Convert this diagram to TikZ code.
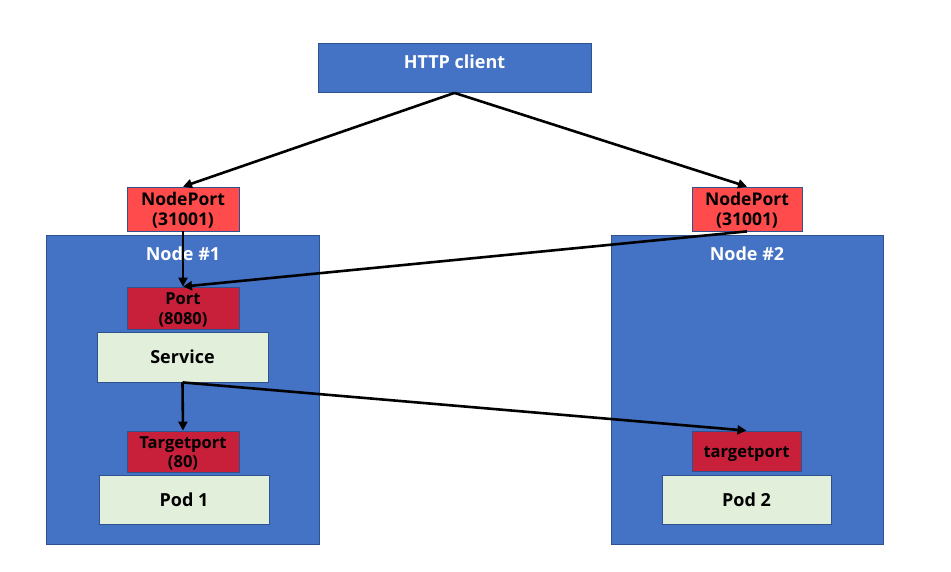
\documentclass[tikz,border=0pt]{standalone}
\usepackage{fontspec}
\setmainfont{Open Sans}
\usetikzlibrary{arrows.meta}
\definecolor{boxblue}{HTML}{4472C4}
\definecolor{edgeblue}{HTML}{2F528F}
\definecolor{npred}{HTML}{FF4B4B}
\definecolor{portred}{HTML}{C8203A}
\definecolor{lightgreen}{HTML}{E2EFDA}
\newcommand{\lowtext}[1]{\raisebox{-2.5pt}[\height][\depth]{\begin{tabular}{@{}c@{}}#1\end{tabular}}}
\tikzset{
  box/.style={draw=edgeblue, line width=0.8pt, rectangle, inner sep=0pt, align=center, font=\bfseries\fontsize{16.5}{19.5}\selectfont, text=black},
  hostbox/.style={box, fill=boxblue},
  npbox/.style={box, fill=npred, font=\bfseries\fontsize{17.5}{19.5}\selectfont},
  portbox/.style={box, fill=portred},
  greenbox/.style={box, fill=lightgreen},
  bigtext/.style={font=\bfseries\fontsize{18}{20}\selectfont},
  hostlabel/.style={text=white, bigtext, inner sep=0pt},
  conn/.style={draw=black, line width=2.6pt, -{Triangle[length=9pt,width=9pt]}}
}
\begin{document}
\begin{tikzpicture}[x=1pt,y=-1pt]
\useasboundingbox (0,0) rectangle (951,572);
% HTTP client
\node[hostbox, minimum width=273pt, minimum height=49pt] (http) at (454.5,68) {};
\node[text=white, bigtext, inner sep=0pt] (httplab) at (454.5,62) {HTTP client};
% Hosts
\node[hostbox, minimum width=273pt, minimum height=309pt] (host1) at (182.5,389.5) {};
\node[hostbox, minimum width=272pt, minimum height=309pt] (host2) at (747,389.5) {};
\node[hostlabel] (lab1) at (183,254) {Node \#1};
\node[hostlabel] (lab2) at (747,254) {Node \#2};
% NodePorts
\node[npbox, minimum width=112pt, minimum height=44pt] (np1) at (183,209) {\lowtext{NodePort\\(31001)}};
\node[npbox, minimum width=110pt, minimum height=44pt] (np2) at (747,209) {\lowtext{NodePort\\(31001)}};
% Port and Service
\node[portbox, minimum width=112pt, minimum height=42pt] (port) at (183,308) {\lowtext{Port\\(8080)}};
\node[greenbox, minimum width=171pt, minimum height=50pt, bigtext] (svc) at (182.5,357) {Service};
% Target ports and pods
\node[portbox, minimum width=112pt, minimum height=41pt] (tp1) at (183,451.5) {\lowtext{Targetport\\(80)}};
\node[greenbox, minimum width=170pt, minimum height=49pt, bigtext] (pod1) at (184,499.5) {Pod 1};
\node[portbox, minimum width=109pt, minimum height=40pt] (tp2) at (746.5,451) {\lowtext{targetport}};
\node[greenbox, minimum width=169pt, minimum height=49pt, bigtext] (pod2) at (746.5,499.5) {Pod 2};
% Connectors
\draw[conn] (http.south) -- (np1.north);
\draw[conn] (http.south) -- (np2.north);
\draw[conn] (np1.south) -- (port.north);
\draw[conn] (np2.south) -- (port.north);
\draw[conn] (svc.south) -- (tp1.north);
\draw[conn] (svc.south) -- (tp2.north);
\end{tikzpicture}
\end{document}
